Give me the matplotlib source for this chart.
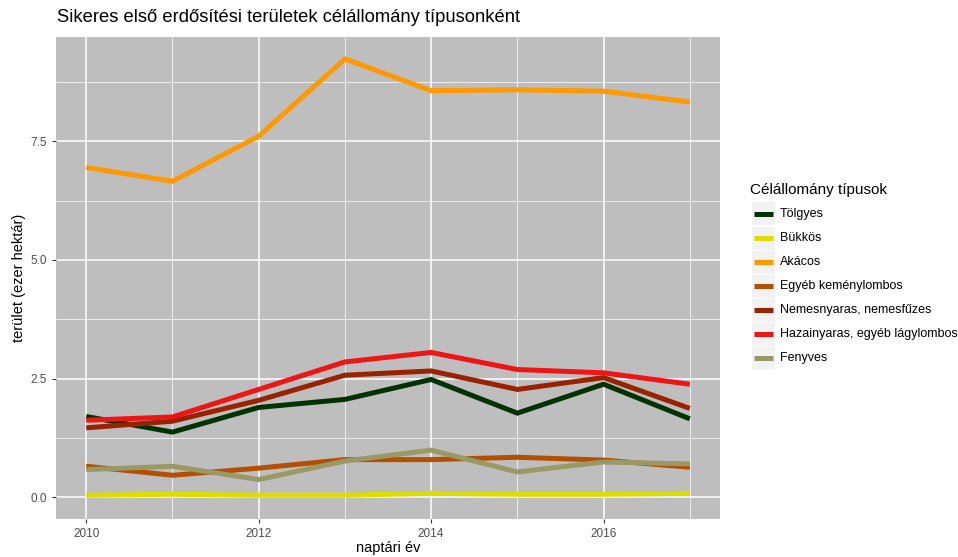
import matplotlib
matplotlib.use("Agg")
import matplotlib.pyplot as plt
from matplotlib.patches import Rectangle
from matplotlib.ticker import MultipleLocator

plt.rcParams['font.family'] = ['Liberation Sans', 'DejaVu Sans']

years = [2010, 2011, 2012, 2013, 2014, 2015, 2016, 2017]
categories = ["Tölgyes", "Bükkös", "Akácos", "Egyéb keménylombos",
              "Nemesnyaras, nemesfűzes", "Hazainyaras, egyéb lágylombos", "Fenyves"]
tolgyes = [1.70, 1.37, 1.89, 2.06, 2.48, 1.77, 2.38, 1.65]
bukkos = [0.04, 0.06, 0.04, 0.04, 0.08, 0.06, 0.06, 0.08]
akacos = [6.95, 6.66, 7.61, 9.24, 8.57, 8.59, 8.56, 8.33]
egyeb_kemeny = [0.65, 0.46, 0.61, 0.79, 0.79, 0.84, 0.78, 0.63]
nemesnyaras = [1.46, 1.60, 2.04, 2.57, 2.66, 2.27, 2.52, 1.87]
hazainyaras = [1.62, 1.69, 2.27, 2.85, 3.05, 2.69, 2.62, 2.38]
fenyves = [0.58, 0.65, 0.37, 0.76, 0.99, 0.53, 0.74, 0.70]
series = [tolgyes, bukkos, akacos, egyeb_kemeny, nemesnyaras, hazainyaras, fenyves]
colors = ["#003300", "#DDDD00", "#FF9900", "#B34F00", "#992200", "#EE1515", "#999966"]
y_ticks = [0.0, 2.5, 5.0, 7.5]
y_tick_labels = ["0.0", "2.5", "5.0", "7.5"]
x_ticks = [2010, 2012, 2014, 2016]

W, H = 958, 557
fig = plt.figure(figsize=(W / 100, H / 100), dpi=100)
L, R, T, B = 56, 720, 37, 519
ax = fig.add_axes([L / W, (H - B) / H, (R - L) / W, (B - T) / H])
ax.set_facecolor("#BEBEBE")

for vals, c in zip(series, colors):
    ax.plot(years, vals, color=c, lw=3.6, solid_capstyle="butt", solid_joinstyle="miter", zorder=3)

ymax = max(max(s) for s in series)
ymin = 0.0
pad = 0.05 * (ymax - ymin)
ax.set_ylim(ymin - pad, ymax + pad)
ax.set_xlim(years[0] - 0.35, years[-1] + 0.35)

ax.set_xticks(x_ticks)
ax.set_xticklabels([str(x) for x in x_ticks])
ax.set_yticks(y_ticks)
ax.set_yticklabels(y_tick_labels)
ax.xaxis.set_minor_locator(MultipleLocator(1))
ax.yaxis.set_minor_locator(MultipleLocator(1.25))
ax.grid(True, which="major", color="white", lw=1.1, zorder=1)
ax.grid(True, which="minor", color="white", lw=0.5, zorder=1)
ax.tick_params(which="minor", length=0)
ax.tick_params(which="major", length=3, color="#333333", labelsize=8.5, labelcolor="#4D4D4D", width=0.8)
for s in ax.spines.values():
    s.set_visible(False)
ax.set_axisbelow(True)

ax.set_xlabel("naptári év", fontsize=10.5, color="black", labelpad=1)
ax.set_ylabel("terület (ezer hektár)", fontsize=10.5, color="black", labelpad=3)
fig.text(57 / W, 1 - 18 / H, "Sikeres első erdősítési területek célállomány típusonként",
         fontsize=13.2, va="center", ha="left")

# legend
fig.text(750 / W, 1 - 190 / H, "Célállomány típusok", fontsize=11, va="center", ha="left")
y0 = 214
step = 24
for i, (name, c) in enumerate(zip(categories, colors)):
    yc = y0 + i * step
    fig.patches.append(Rectangle((752 / W, 1 - (yc + 11.5) / H), 23 / W, 23 / H,
                                 transform=fig.transFigure, facecolor="#F2F2F2", edgecolor="none"))
    fig.add_artist(plt.Line2D([754 / W, 773 / W], [1 - yc / H, 1 - yc / H],
                              transform=fig.transFigure, color=c, lw=3.6, solid_capstyle="butt"))
    fig.text(780 / W, 1 - yc / H, name, fontsize=9, va="center", ha="left")

fig.savefig("out.png", dpi=100)
